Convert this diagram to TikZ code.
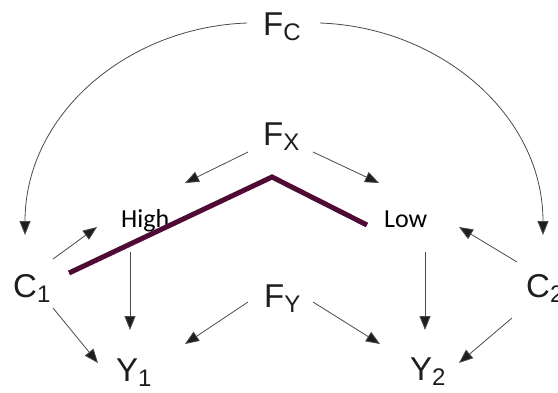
\documentclass[tikz,border=0pt]{standalone}
\usepackage{fontspec}
\setmainfont{Liberation Sans}
\newfontfamily\calfont{Carlito}
\usetikzlibrary{arrows.meta,calc}
\definecolor{txt}{HTML}{1E1E1E}
\definecolor{ln}{HTML}{4A4A4A}
\definecolor{plum}{HTML}{4F0A36}
\newcommand{\varlbl}[2]{{\fontsize{33}{33}\selectfont #1\raisebox{-5pt}{\fontsize{24}{24}\selectfont #2}}}
\tikzset{
  var/.style={inner sep=0pt, anchor=base west, text=txt},
  lvl/.style={inner sep=0pt, anchor=base west, text=black, font=\calfont\fontsize{26}{26}\selectfont},
  arr/.style={draw=ln, line width=0.8pt, -{Triangle[length=14pt,width=11pt,fill=txt]}},
}
\begin{document}
\begin{tikzpicture}[x=1pt,y=-1pt]
\useasboundingbox (0,0) rectangle (558,392);
\fill[white] (0,0) rectangle (558,392);
% nodes
\node[var] (FC) at (263,35) {\varlbl{F}{C}};
\node[var] (FX) at (263,145) {\varlbl{F}{X}};
\node[var] (FY) at (264,307) {\varlbl{F}{Y}};
\node[var] (C1) at (13,297) {\varlbl{C}{1}};
\node[var] (C2) at (526,297) {\varlbl{C}{2}};
\node[var] (Y1) at (116,381) {\varlbl{Y}{1}};
\node[var] (Y2) at (410,380) {\varlbl{Y}{2}};
\node[lvl] (High) at (121,227) {High};
\node[lvl] (Low) at (384,227) {Low};
% arcs from FC
\draw[arr] ($(FC.base west)+(-16,-12)$) to[out=182,in=90] ($(C1.base west)+(12,-62)$);
\draw[arr] ($(FC.base west)+(57,-12)$) to[out=-2,in=90] ($(C2.base west)+(17,-62)$);
% FX
\draw[arr] ($(FX.base west)+(-15,7)$) -- ($(High.base west)+(64,-44)$);
\draw[arr] ($(FX.base west)+(50,7)$) -- ($(Low.base west)+(-5,-44)$);
% C1
\draw[arr] ($(C1.base west)+(40,-38)$) -- ($(High.base west)+(-24,0)$);
\draw[arr] ($(C1.base west)+(40,11)$) -- ($(Y1.base west)+(-18,-18)$);
% High / Low down
\draw[arr] ($(High.base west)+(9,25)$) -- ($(Y1.base west)+(14,-51)$);
\draw[arr] ($(Low.base west)+(41,25)$) -- ($(Y2.base west)+(15,-50)$);
% FY
\draw[arr] ($(FY.base west)+(-16,-5)$) -- ($(Y1.base west)+(69,-37)$);
\draw[arr] ($(FY.base west)+(49,-5)$) -- ($(Y2.base west)+(-30,-36)$);
% C2
\draw[arr] ($(C2.base west)+(-9,-35)$) -- ($(Low.base west)+(75,0)$);
\draw[arr] ($(C2.base west)+(-14,21)$) -- ($(Y2.base west)+(49,-17)$);
% purple line
\draw[plum, line width=5pt] (69,273) -- (272,177) -- (367,225);
\end{tikzpicture}
\end{document}
